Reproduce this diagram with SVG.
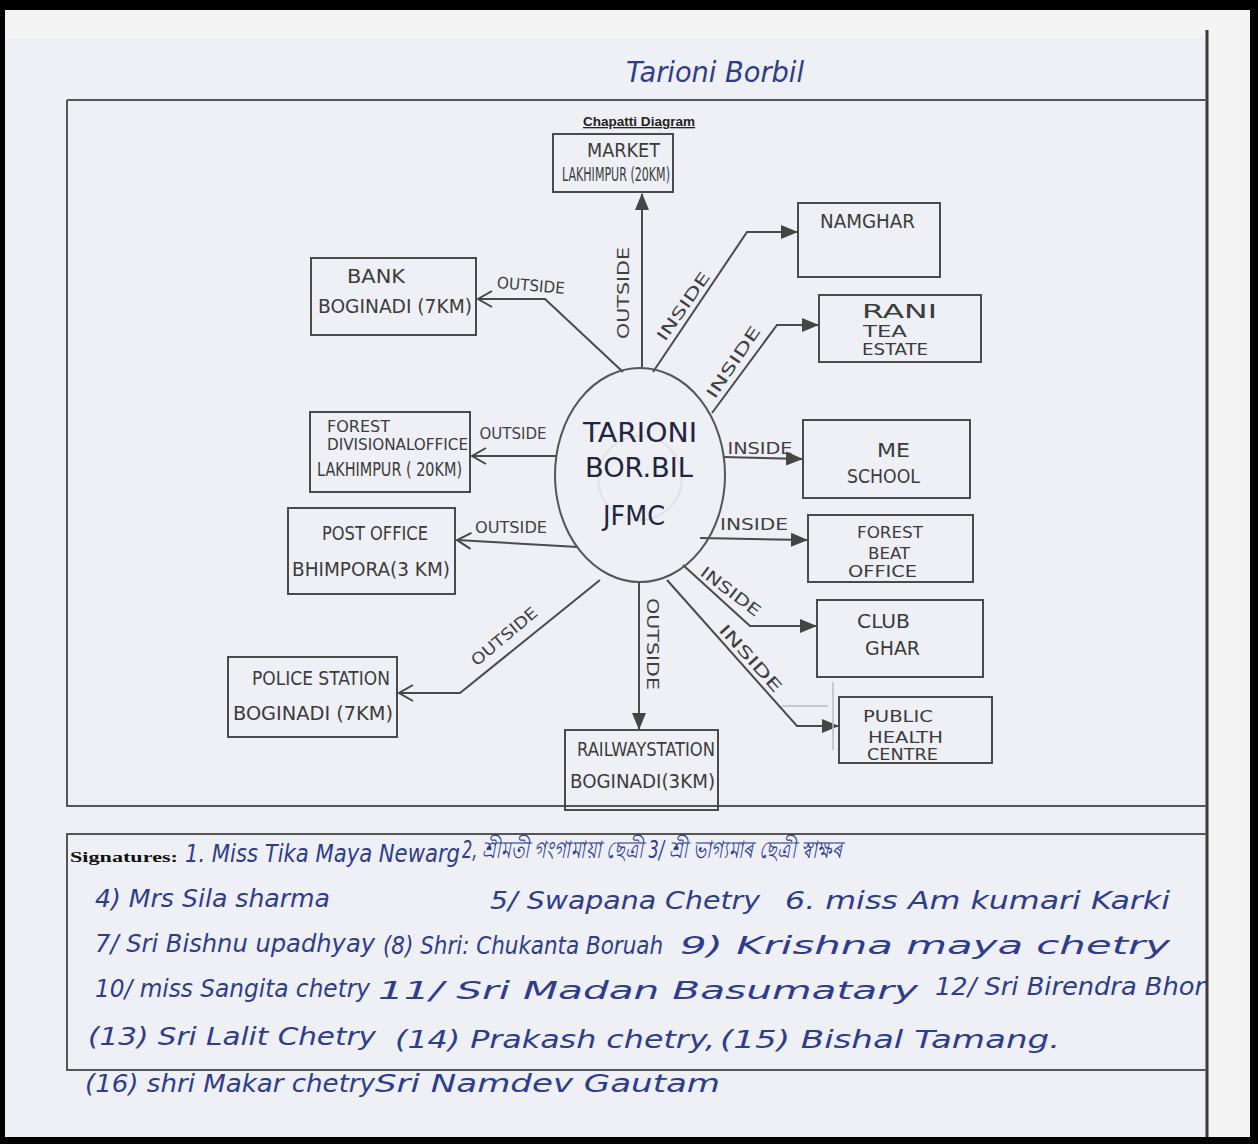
<svg xmlns="http://www.w3.org/2000/svg" width="1258" height="1144" viewBox="0 0 1258 1144">
<defs>
<marker id="tri" markerUnits="userSpaceOnUse" markerWidth="18" markerHeight="16" viewBox="0 0 18 16" refX="16" refY="8" orient="auto">
<path d="M0,1 L17,8 L0,15 Z" fill="#454545"/>
</marker>
<marker id="chev" markerUnits="userSpaceOnUse" markerWidth="18" markerHeight="18" viewBox="0 0 18 18" refX="16" refY="9" orient="auto">
<path d="M2,1 L16,9 L2,17" fill="none" stroke="#454545" stroke-width="2"/>
</marker>
<style>
.box{fill:none;stroke:#4a4a4a;stroke-width:2}
.frame{fill:none;stroke:#555;stroke-width:2}
.t{font-family:"Liberation Sans Narrow","DejaVu Sans Condensed","Liberation Sans",sans-serif;fill:#3b3b3b;font-size:20px}
.s{font-size:16px}
.lbl{font-family:"Liberation Sans Narrow","DejaVu Sans Condensed","Liberation Sans",sans-serif;fill:#3f3f3f;font-size:16px;text-anchor:middle}
.c{font-family:"Liberation Sans Narrow","DejaVu Sans Condensed",sans-serif;fill:#22253d;font-size:26px}
.ln{fill:none;stroke:#4a4a4a;stroke-width:2}
.sig{font-family:"Liberation Sans Narrow","DejaVu Sans Condensed",sans-serif;font-style:italic;fill:#2d3b93;font-size:24px}
</style>
</defs>
<rect x="0" y="0" width="1258" height="1144" fill="#000"/>
<rect x="5" y="10" width="1245" height="1127" fill="#f4f4f5"/>
<rect x="5" y="38" width="1202" height="1099" fill="#eef0f6"/>
<line x1="1207" y1="30" x2="1207" y2="1137" stroke="#3a3a3a" stroke-width="3"/>

<text x="715" y="82" text-anchor="middle" font-family="Liberation Sans Narrow, DejaVu Sans Condensed, sans-serif" font-style="italic" font-size="28" fill="#2d3b93" textLength="178" lengthAdjust="spacingAndGlyphs">Tarioni Borbil</text>

<g id="frame">
<path class="frame" d="M67,100 H1207 M67,100 V806 H1207"/>
<text x="639" y="126" text-anchor="middle" font-family="Liberation Sans, sans-serif" font-weight="bold" font-size="13" fill="#222" text-decoration="underline" textLength="112" lengthAdjust="spacingAndGlyphs">Chapatti Diagram</text>
</g>

<g id="connectors">
<path class="ln" d="M642,367 V194" marker-end="url(#tri)"/>
<path class="ln" d="M623,372 L545,299 H478" marker-end="url(#chev)"/>
<path class="ln" d="M653,372 L747,232 H797" marker-end="url(#tri)"/>
<path class="ln" d="M712,413 L777,325 H818" marker-end="url(#tri)"/>
<path class="ln" d="M557,456 H472" marker-end="url(#chev)"/>
<path class="ln" d="M723,457 L802,459" marker-end="url(#tri)"/>
<path class="ln" d="M578,547 L457,540" marker-end="url(#chev)"/>
<path class="ln" d="M700,538 L807,540" marker-end="url(#tri)"/>
<path class="ln" d="M683,565 L750,626 H816" marker-end="url(#tri)"/>
<path class="ln" d="M667,580 L797,726 H838" marker-end="url(#tri)"/>
<path class="ln" d="M600,580 L460,693 H399" marker-end="url(#chev)"/>
<path class="ln" d="M639,582 V729" marker-end="url(#tri)"/>
<path d="M782,706 H828 M833,682 V750" fill="none" stroke="#b8bac2" stroke-width="1.5"/>
<g class="lbl">
<text transform="translate(623,293) rotate(-90)" y="6" textLength="92" lengthAdjust="spacingAndGlyphs">OUTSIDE</text>
<text transform="translate(531,285) rotate(5)" y="6" textLength="68" lengthAdjust="spacingAndGlyphs">OUTSIDE</text>
<text transform="translate(683,306) rotate(-55)" y="6" textLength="80" lengthAdjust="spacingAndGlyphs">INSIDE</text>
<text transform="translate(733,362) rotate(-56)" y="6" textLength="83" lengthAdjust="spacingAndGlyphs">INSIDE</text>
<text x="513" y="439" textLength="67" lengthAdjust="spacingAndGlyphs">OUTSIDE</text>
<text x="511" y="533" textLength="72" lengthAdjust="spacingAndGlyphs">OUTSIDE</text>
<text transform="translate(504,636) rotate(-40)" y="6" textLength="81" lengthAdjust="spacingAndGlyphs">OUTSIDE</text>
<text transform="translate(653,644) rotate(90)" y="6" textLength="92" lengthAdjust="spacingAndGlyphs">OUTSIDE</text>
<text x="760" y="454" textLength="65" lengthAdjust="spacingAndGlyphs">INSIDE</text>
<text x="754" y="530" textLength="68" lengthAdjust="spacingAndGlyphs">INSIDE</text>
<text transform="translate(731,591) rotate(37)" y="6" textLength="71" lengthAdjust="spacingAndGlyphs">INSIDE</text>
<text transform="translate(751,658) rotate(48)" y="6" textLength="85" lengthAdjust="spacingAndGlyphs">INSIDE</text>
</g>
</g>

<g id="center">
<ellipse cx="640" cy="475" rx="85" ry="107" fill="none" stroke="#555" stroke-width="2"/>
<circle cx="640" cy="478" r="42" fill="none" stroke="#dcdee6" stroke-width="1.5"/>
<text class="c" x="583" y="442" textLength="114" lengthAdjust="spacingAndGlyphs">TARIONI</text>
<text class="c" x="585" y="477" textLength="108" lengthAdjust="spacingAndGlyphs">BOR.BIL</text>
<text class="c" x="603" y="525" textLength="62" lengthAdjust="spacingAndGlyphs">JFMC</text>
</g>

<g id="market">
<rect class="box" x="553" y="134" width="120" height="58"/>
<text class="t" x="587" y="157" textLength="73" lengthAdjust="spacingAndGlyphs">MARKET</text>
<text class="t" x="562" y="181" textLength="108" lengthAdjust="spacingAndGlyphs">LAKHIMPUR (20KM)</text>
</g>
<g id="bank">
<rect class="box" x="311" y="258" width="165" height="77"/>
<text class="t" x="347" y="283" textLength="58" lengthAdjust="spacingAndGlyphs">BANK</text>
<text class="t" x="318" y="313" textLength="154" lengthAdjust="spacingAndGlyphs">BOGINADI (7KM)</text>
</g>
<g id="namghar">
<rect class="box" x="798" y="203" width="142" height="74"/>
<text class="t" x="820" y="228" textLength="95" lengthAdjust="spacingAndGlyphs">NAMGHAR</text>
</g>
<g id="rani">
<rect class="box" x="819" y="295" width="162" height="67"/>
<text class="t" x="862" y="318" textLength="75" lengthAdjust="spacingAndGlyphs">RANI</text>
<text class="t s" x="863" y="337" textLength="44" lengthAdjust="spacingAndGlyphs">TEA</text>
<text class="t s" x="862" y="355" textLength="66" lengthAdjust="spacingAndGlyphs">ESTATE</text>
</g>
<g id="forestdiv">
<rect class="box" x="310" y="412" width="160" height="80"/>
<text class="t s" x="327" y="432" textLength="63" lengthAdjust="spacingAndGlyphs">FOREST</text>
<text class="t s" x="327" y="450" textLength="141" lengthAdjust="spacingAndGlyphs">DIVISIONALOFFICE</text>
<text class="t" x="317" y="476" textLength="145" lengthAdjust="spacingAndGlyphs">LAKHIMPUR ( 20KM)</text>
</g>
<g id="meschool">
<rect class="box" x="803" y="420" width="167" height="78"/>
<text class="t" x="877" y="457" textLength="33" lengthAdjust="spacingAndGlyphs">ME</text>
<text class="t" x="847" y="483" textLength="73" lengthAdjust="spacingAndGlyphs">SCHOOL</text>
</g>
<g id="postoffice">
<rect class="box" x="288" y="508" width="167" height="86"/>
<text class="t" x="322" y="540" textLength="106" lengthAdjust="spacingAndGlyphs">POST OFFICE</text>
<text class="t" x="292" y="576" font-size="22" textLength="158" lengthAdjust="spacingAndGlyphs">BHIMPORA(3 KM)</text>
</g>
<g id="forestbeat">
<rect class="box" x="808" y="515" width="165" height="67"/>
<text class="t s" x="857" y="538" textLength="66" lengthAdjust="spacingAndGlyphs">FOREST</text>
<text class="t s" x="868" y="559" textLength="42" lengthAdjust="spacingAndGlyphs">BEAT</text>
<text class="t s" x="848" y="577" textLength="69" lengthAdjust="spacingAndGlyphs">OFFICE</text>
</g>
<g id="clubghar">
<rect class="box" x="817" y="600" width="166" height="77"/>
<text class="t" x="857" y="628" textLength="53" lengthAdjust="spacingAndGlyphs">CLUB</text>
<text class="t" x="865" y="655" textLength="55" lengthAdjust="spacingAndGlyphs">GHAR</text>
</g>
<g id="police">
<rect class="box" x="228" y="657" width="169" height="80"/>
<text class="t" x="252" y="685" textLength="138" lengthAdjust="spacingAndGlyphs">POLICE STATION</text>
<text class="t" x="233" y="720" textLength="160" lengthAdjust="spacingAndGlyphs">BOGINADI (7KM)</text>
</g>
<g id="phc">
<rect class="box" x="839" y="697" width="153" height="66"/>
<text class="t s" x="863" y="722" textLength="70" lengthAdjust="spacingAndGlyphs">PUBLIC</text>
<text class="t s" x="868" y="743" textLength="75" lengthAdjust="spacingAndGlyphs">HEALTH</text>
<text class="t s" x="867" y="760" textLength="71" lengthAdjust="spacingAndGlyphs">CENTRE</text>
</g>
<g id="railway">
<rect class="box" x="565" y="730" width="153" height="80"/>
<text class="t" x="577" y="756" textLength="138" lengthAdjust="spacingAndGlyphs">RAILWAYSTATION</text>
<text class="t" x="570" y="788" textLength="145" lengthAdjust="spacingAndGlyphs">BOGINADI(3KM)</text>
</g>

<g id="signatures">
<path class="frame" d="M1207,834 H67 V1070 H1207"/>
<text x="70" y="862" font-family="Liberation Serif, serif" font-weight="bold" font-size="15" fill="#111" textLength="108" lengthAdjust="spacingAndGlyphs">Signatures:</text>
<text class="sig" x="185" y="862" textLength="275" lengthAdjust="spacingAndGlyphs">1. Miss Tika Maya Newarg</text>
<text class="sig" x="462" y="858" font-size="20" textLength="380" lengthAdjust="spacingAndGlyphs">2, শ্ৰীমতী গংগামায়া ছেত্ৰী 3/ শ্ৰী ভাগ্যমাৰ ছেত্ৰী স্বাক্ষৰ</text>
<text class="sig" x="95" y="907" textLength="235" lengthAdjust="spacingAndGlyphs">4) Mrs  Sila  sharma</text>
<text class="sig" x="490" y="909" textLength="270" lengthAdjust="spacingAndGlyphs">5/ Swapana Chetry</text>
<text class="sig" x="785" y="909" textLength="385" lengthAdjust="spacingAndGlyphs">6. miss Am kumari Karki</text>
<text class="sig" x="95" y="952" textLength="280" lengthAdjust="spacingAndGlyphs">7/ Sri Bishnu upadhyay</text>
<text class="sig" x="383" y="954" textLength="280" lengthAdjust="spacingAndGlyphs">(8) Shri: Chukanta Boruah</text>
<text class="sig" x="680" y="954" textLength="490" lengthAdjust="spacingAndGlyphs">9) Krishna maya chetry</text>
<text class="sig" x="95" y="997" fill="#4a5bb8" textLength="275" lengthAdjust="spacingAndGlyphs">10/ miss Sangita chetry</text>
<text class="sig" x="378" y="999" font-size="30" textLength="540" lengthAdjust="spacingAndGlyphs">11/ Sri Madan Basumatary</text>
<text class="sig" x="935" y="995" font-size="20" textLength="270" lengthAdjust="spacingAndGlyphs">12/ Sri Birendra Bhor</text>
<text class="sig" x="88" y="1045" font-size="30" textLength="288" lengthAdjust="spacingAndGlyphs">(13) Sri Lalit Chetry</text>
<text class="sig" x="395" y="1048" textLength="320" lengthAdjust="spacingAndGlyphs">(14) Prakash chetry,</text>
<text class="sig" x="720" y="1048" font-size="26" textLength="340" lengthAdjust="spacingAndGlyphs">(15) Bishal Tamang.</text>
<text class="sig" x="85" y="1092" textLength="290" lengthAdjust="spacingAndGlyphs">(16) shri Makar chetry</text>
<text class="sig" x="375" y="1092" textLength="345" lengthAdjust="spacingAndGlyphs">Sri Namdev Gautam</text>
</g>
</svg>
